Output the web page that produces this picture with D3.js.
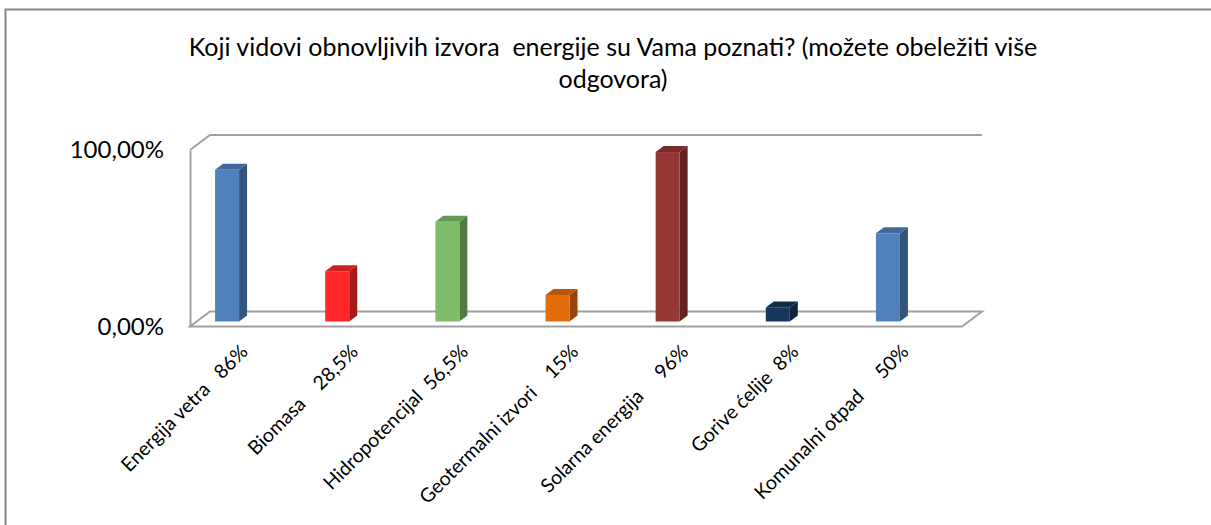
<!DOCTYPE html>
<html>
<head>
<meta charset="utf-8">
<script src="https://cdn.jsdelivr.net/npm/d3@7"></script>
<style>
  body { margin: 0; background: #fff; }
  text { font-family: Lato, "Open Sans", sans-serif; fill: #000; }
</style>
</head>
<body>
<div id="chart"></div>
<script>
const categories = ["Energija vetra", "Biomasa", "Hidropotencijal", "Geotermalni izvori", "Solarna energija", "Gorive ćelije", "Komunalni otpad"];
const labelSuffix = ["   86%", "    28,5%", "  56,5%", "    15%", "     96%", "  8%", "     50%"];
const values = [86, 28.5, 56.5, 15, 96, 8, 50];
const colors = ["#4F81BD", "#FF2828", "#7DBD6A", "#E46C0A", "#953735", "#17375E", "#4F81BD"];
const tickValues = [0, 100];
const tickLabels = ["0,00%", "100,00%"];
const titleLines = ["Koji vidovi obnovljivih izvora  energije su Vama poznati? (možete obeležiti više", "odgovora)"];

const W = 1211, H = 525;
const DEPTH = { X: 20, Y: -15 };     // wall depth offset (front -> back)
const BAR_SHIFT = { X: 0, Y: -5 };   // bars sit a bit behind the front plane
const BAR_DEPTH = { X: 8, Y: -6 };
const BAR_W = 24;

const svg = d3.select("#chart").append("svg")
  .attr("width", W)
  .attr("height", H);

// outer chart border (left + top only visible)
svg.append("path")
  .attr("d", `M5.5,${H} V9.5 H${W}`)
  .attr("fill", "none")
  .attr("stroke", "#868686")
  .attr("stroke-width", 2);

// title
svg.append("text")
  .attr("text-anchor", "middle")
  .attr("font-size", 25)
  .style("white-space", "pre")
  .selectAll("tspan")
  .data(titleLines)
  .join("tspan")
    .attr("x", 613)
    .attr("y", (d, i) => 56 + i * 32)
    .text(d => d);

// scales (front plane)
const x = d3.scaleBand()
  .domain(categories)
  .range([172, 943]);

const y = d3.scaleLinear()
  .domain([0, 100])
  .range([326.5, 150]);

const x0 = 190, x1 = 962; // front plane extent

// walls / floor
const grid = svg.append("g")
  .attr("fill", "none")
  .attr("stroke", "#A0A0A0")
  .attr("stroke-width", 2);

// side wall outline + back top
grid.append("path")
  .attr("d", `M${x0},${y(100)} L${x0 + DEPTH.X},${y(100) + DEPTH.Y} H${x1 + DEPTH.X}`);
// floor
grid.append("path")
  .attr("d", `M${x0},${y(0)} L${x0 + DEPTH.X},${y(0) + DEPTH.Y} H${x1 + DEPTH.X} L${x1},${y(0)} Z`);

// y axis on the front plane
const yAxis = d3.axisLeft(y)
  .tickValues(tickValues)
  .tickSize(0)
  .tickPadding(26)
  .tickFormat((d, i) => tickLabels[i]);

const yG = svg.append("g")
  .attr("transform", `translate(${x0},0)`)
  .call(yAxis);
yG.select(".domain").attr("stroke", "#A0A0A0").attr("stroke-width", 2);
yG.selectAll("text")
  .attr("font-family", "Lato, sans-serif")
  .attr("font-size", 24)
  .attr("fill", "#000");

// 3D bars
const bars = svg.append("g")
  .selectAll("g")
  .data(categories)
  .join("g");

bars.each(function(c, i) {
  const g = d3.select(this);
  const cx = x(c) + x.bandwidth() / 2 + BAR_SHIFT.X;
  const l = cx - BAR_W / 2, r = cx + BAR_W / 2;
  const b = y(0) + BAR_SHIFT.Y, t = y(values[i]) + BAR_SHIFT.Y;
  const base = d3.color(colors[i]);
  const dx = BAR_DEPTH.X, dy = BAR_DEPTH.Y;

  g.append("polygon") // side
    .attr("points", [[r, b], [r + dx, b + dy], [r + dx, t + dy], [r, t]].join(" "))
    .attr("fill", base.darker(1.2));
  g.append("polygon") // top
    .attr("points", [[l, t], [r, t], [r + dx, t + dy], [l + dx, t + dy]].join(" "))
    .attr("fill", base.darker(0.6));
  g.append("rect") // front
    .attr("x", l)
    .attr("y", t)
    .attr("width", BAR_W)
    .attr("height", b - t)
    .attr("fill", base);
});

// rotated category labels
svg.append("g")
  .selectAll("text")
  .data(categories)
  .join("text")
    .attr("text-anchor", "end")
    .attr("font-size", 19.5)
    .style("white-space", "pre")
    .attr("transform", d => `translate(${x(d) + x.bandwidth() / 2 + 22},353) rotate(-45)`)
    .text((d, i) => d + labelSuffix[i]);
</script>
</body>
</html>
